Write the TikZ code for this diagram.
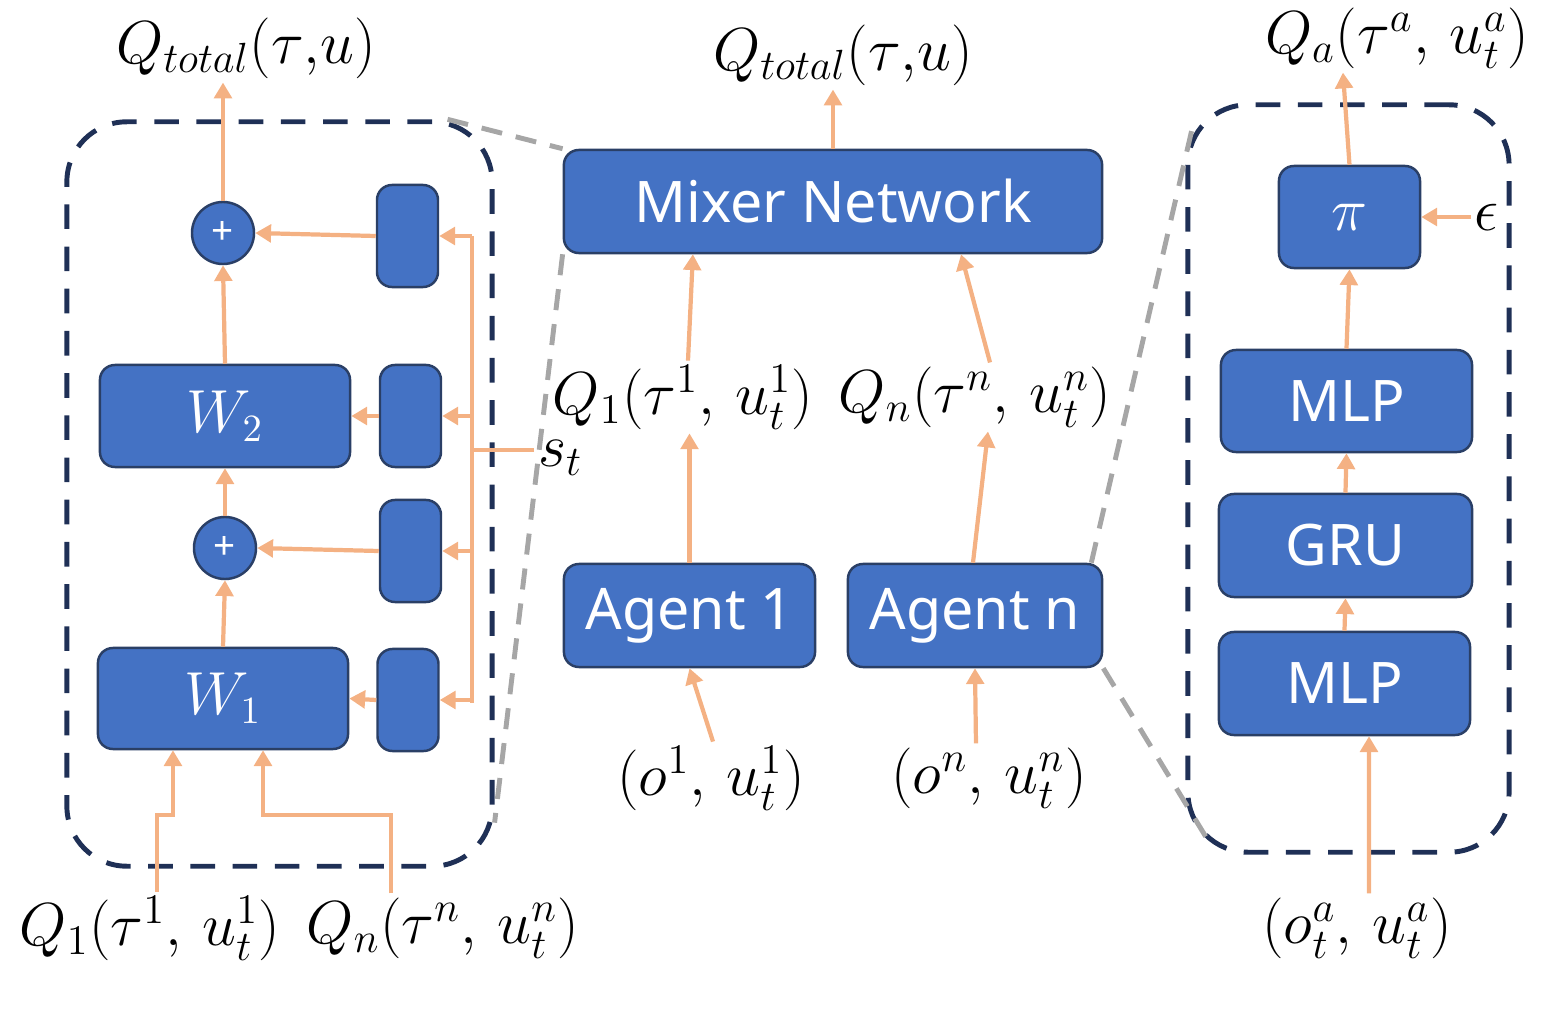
\documentclass[tikz,border=0pt]{standalone}
\usepackage{fontspec}
\setsansfont{Noto Sans}
\usetikzlibrary{arrows.meta}
\tikzset{>={Triangle[width=5pt,length=4.5pt]}}
\definecolor{netblue}{HTML}{4472C4}
\definecolor{netline}{HTML}{2A3F66}
\definecolor{zoomnavy}{HTML}{1F3056}
\definecolor{floworange}{HTML}{F4B183}
\definecolor{zoomgray}{HTML}{A6A6A6}
\tikzset{
  block/.style={draw=netline, fill=netblue, line width=0.7pt, rounded corners=0.15cm,
    text=white, inner sep=0pt, font=\fontsize{16.3}{20}\selectfont\sffamily},
  gate/.style={block, minimum width=0.61cm, minimum height=1.02cm},
  adder/.style={circle, draw=netline, fill=netblue, line width=0.7pt, text=white,
    minimum size=0.62cm, inner sep=0pt, font=\fontsize{11}{12}\selectfont\sffamily},
  lbl/.style={inner sep=1pt, font=\fontsize{16.5}{20}\selectfont},
  flow/.style={draw=floworange, line width=1.2pt, ->},
  bus/.style={draw=floworange, line width=1.2pt},
  zoombox/.style={draw=zoomnavy, line width=1.4pt, dash pattern=on 7pt off 5pt, rounded corners=0.6cm},
  zoomline/.style={draw=zoomgray, line width=1.4pt, dash pattern=on 6pt off 4pt},
}

\begin{document}
\begin{tikzpicture}[x=0.01cm, y=-0.01cm]
  \useasboundingbox (0,0) rectangle (1562,1009);

  % mixing network, zoomed in
  \node[zoombox, minimum width=4.25cm, minimum height=7.44cm] (mixzoom) at (279.5,494) {};
  \node[adder] (plusA) at (223,233) {+};
  \node[adder] (plusB) at (225,548) {+};
  \node[gate] (gateA) at (407.5,236) {};
  \node[gate] (gateB) at (410.5,416) {};
  \node[gate] (gateC) at (410.5,551) {};
  \node[gate] (gateD) at (408,700) {};
  \node[block, minimum width=2.5cm, minimum height=1.02cm] (wtwo) at (225,416) {$W_2$};
  \node[block, minimum width=2.5cm, minimum height=1.01cm] (wone) at (223,698.5) {$W_1$};
  \node[lbl] (qtotL) at (246,48) {$Q_{total}(\tau{,}u)$};
  \node[lbl] (qoneL) at (150,928) {$Q_1(\tau^1,\,u^1_t)$};
  \node[lbl] (qnL) at (443,928) {$Q_n(\tau^n,\,u^n_t)$};
  \node[lbl, anchor=west] (stL) at (534,458) {$s_t$};
  \coordinate (busTop) at (472,236);
  \coordinate (busBot) at (472,703);
  \coordinate (feed) at (0,815);

  \draw[bus] (busTop) -- (busBot);
  \draw[bus] (stL.west |- 0,450) -- (busTop |- 0,450);
  \foreach \g in {gateA,gateB,gateC,gateD}
    \draw[flow] (\g.east -| busTop) -- (\g.east);
  \draw[flow] (gateA.west) -- (plusA.east);
  \draw[flow] (gateB.west) -- (wtwo.east);
  \draw[flow] (gateC.west) -- (plusB.east);
  \draw[flow] (gateD.west) -- (wone.east);
  \draw[flow] (wone.north) -- (plusB.south);
  \draw[flow] (plusB.north) -- (wtwo.south);
  \draw[flow] (wtwo.north) -- (plusA.south);
  \draw[flow] (plusA.north) -- (plusA.north |- qtotL.south);
  \draw[flow] ([xshift=0.07cm]qoneL.north) -- ([xshift=0.07cm]qoneL.north |- feed) -| ([xshift=-0.5cm]wone.south);
  \draw[flow] ([xshift=-0.52cm]qnL.north) -- ([xshift=-0.52cm]qnL.north |- feed) -| ([xshift=0.4cm]wone.south);

  % QMIX overview
  \node[block, minimum width=5.38cm, minimum height=1.03cm] (mixer) at (833,201.5) {Mixer Network};
  \node[block, minimum width=2.51cm, minimum height=1.03cm] (agentone) at (689.5,615.5) {Agent 1};
  \node[block, minimum width=2.54cm, minimum height=1.03cm] (agentn) at (975,615.5) {Agent n};
  \node[lbl] (qtotM) at (843,55) {$Q_{total}(\tau{,}u)$};
  \node[lbl] (qoneM) at (683,397) {$Q_1(\tau^1,\,u^1_t)$};
  \node[lbl] (qnM) at (975,397) {$Q_n(\tau^n,\,u^n_t)$};
  \node[lbl] (obsone) at (711,778) {$(o^1,\,u^1_t)$};
  \node[lbl] (obsn) at (989,778) {$(o^n,\,u^n_t)$};

  \draw[flow] (mixer.north) -- (mixer.north |- qtotM.south);
  \draw[flow] (agentone.north) -- (agentone.north |- qoneM.south);
  \draw[flow] ([xshift=-0.02cm]agentn.north) -- ([xshift=0.13cm]qnM.south);
  \draw[flow] ([xshift=0.05cm]qoneM.north) -- ([xshift=-1.4cm]mixer.south);
  \draw[flow] ([xshift=0.15cm]qnM.north) -- ([xshift=1.28cm]mixer.south);
  \draw[flow] ([xshift=0.02cm]obsone.north) -- (agentone.south);
  \draw[flow] ([xshift=-0.13cm]obsn.north) -- (agentn.south);

  % agent network, zoomed in
  \node[zoombox, minimum width=3.21cm, minimum height=7.47cm] (agentzoom) at (1348.5,478.5) {};
  \node[block, minimum width=1.41cm, minimum height=1.02cm] (pibox) at (1349.5,217) {$\pi$};
  \node[block, minimum width=2.51cm, minimum height=1.02cm] (mlptop) at (1346.5,401) {MLP};
  \node[block, minimum width=2.53cm, minimum height=1.03cm] (gru) at (1345.5,545.5) {GRU};
  \node[block, minimum width=2.51cm, minimum height=1.03cm] (mlpbot) at (1344.5,683.5) {MLP};
  \node[lbl] (qaL) at (1397,38) {$Q_a(\tau^a,\,u^a_t)$};
  \node[lbl] (epsL) at (1487,217) {$\epsilon$};
  \node[lbl] (obsa) at (1357,928) {$(o^a_t,\,u^a_t)$};

  \draw[flow] (pibox.north) -- ([xshift=-0.54cm]qaL.south);
  \draw[flow] (mlptop.north) -- (pibox.south);
  \draw[flow] (gru.north) -- (mlptop.south);
  \draw[flow] (mlpbot.north) -- (gru.south);
  \draw[flow] ([xshift=0.12cm]obsa.north) -- ([xshift=0.245cm]mlpbot.south);
  \draw[flow] (epsL.west) -- (pibox.east);

  % zoom guides
  \draw[zoomline] ([xshift=-0.47cm]mixzoom.north east) -- (mixer.north west);
  \draw[zoomline] (mixer.south west) -- ([yshift=0.46cm]mixzoom.south east);
  \draw[zoomline] ([xshift=-0.12cm]agentn.north east) -- ([xshift=0.07cm,yshift=-0.25cm]agentzoom.north west);
  \draw[zoomline] (agentn.south east) -- ([xshift=0.27cm,yshift=0.07cm]agentzoom.south west);
\end{tikzpicture}
\end{document}
